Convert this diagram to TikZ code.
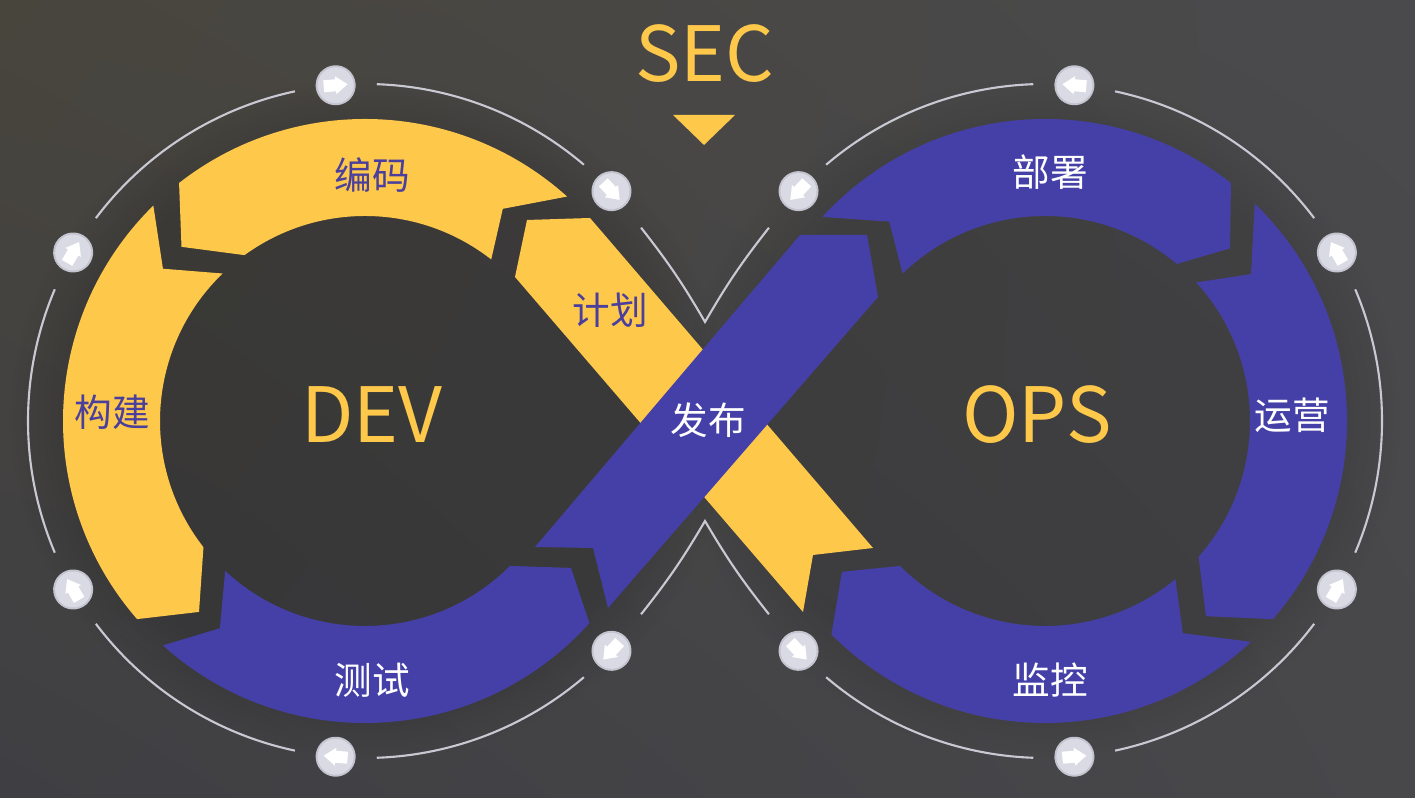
\documentclass[tikz,border=0pt]{standalone}
\usepackage{fontspec}
\setmainfont{Noto Sans CJK SC}
\usetikzlibrary{calc,fadings,shadings}
\definecolor{bgTL}{HTML}{48453D}
\definecolor{bgTR}{HTML}{4A4A4D}
\definecolor{bgBL}{HTML}{3F3F43}
\definecolor{bgBR}{HTML}{48484B}
\definecolor{gold}{HTML}{FEC84B}
\definecolor{indigo}{HTML}{4540A8}
\definecolor{thinc}{HTML}{C9C9D3}
\definecolor{dotc}{HTML}{DADAE4}
\definecolor{dotrim}{HTML}{C4C4D0}
\definecolor{lblpurple}{HTML}{4A3F9C}
\newcommand{\ringseg}[8]{%
  \fill[#8] ($(#1)+(#2:3.02)$) arc[start angle=#2, end angle=#5, radius=3.02]
    -- ($(#1)+(#6:2.53)$) -- ($(#1)+(#7:2.05)$)
    arc[start angle=#7, end angle=#4, radius=2.05]
    -- ($(#1)+(#3:2.53)$) -- cycle;}
\newcommand{\ringdot}[3]{%
  \begin{scope}[shift={($(#1)+(#2:3.37)$)}, rotate=#3]
    \fill[dotrim] (0,0) circle (0.2);
    \fill[dotc] (0,0) circle (0.18);
    \fill[white] (-0.12,-0.06) -- (0.0,-0.06) -- (0.0,-0.09) -- (0.12,0) -- (0.0,0.09) -- (0.0,0.06) -- (-0.12,0.06) -- cycle;
  \end{scope}}
\tikzset{
  thinline/.style={draw=thinc, line width=0.6pt},
  lbl/.style={font=\fontsize{10.7}{12}\selectfont, inner sep=0pt},
  big/.style={font=\fontsize{21.7}{24}\selectfont, text=gold, inner sep=0pt}
}
\begin{document}
\begin{tikzpicture}
\useasboundingbox (0,0) rectangle (14.15,7.98);
\shade[upper left=bgTL, upper right=bgTR, lower left=bgBL, lower right=bgBR] (0,0) rectangle (14.15,7.98);
\fill[black, opacity=0.16, path fading=circle with fuzzy edge 20 percent] (3.7,3.8) ellipse (3.6 and 3.4);
\fill[black, opacity=0.12, path fading=circle with fuzzy edge 20 percent] (10.4,3.8) ellipse (3.6 and 3.4);
\coordinate (CL) at (3.65,3.77);
\coordinate (CR) at (10.45,3.77);
\coordinate (xt) at (7.05,4.76);
\coordinate (xb) at (7.05,2.77);
% thin outer circles
\foreach \s/\e in {49.5/88,102/143,157/203,217/258,272/310.5}
  \draw[thinline] ($(CL)+(\s:3.37)$) arc[start angle=\s, end angle=\e, radius=3.37];
\foreach \s/\e in {92/130.5,37/78,-23/23,-78/-37,-130.5/-92}
  \draw[thinline] ($(CR)+(\s:3.37)$) arc[start angle=\s, end angle=\e, radius=3.37];
\draw[thinline] ($(CL)+(35:3.37)$) to[bend left=4] (xt) to[bend left=4] ($(CR)+(145:3.37)$);
\draw[thinline] ($(CL)+(-35:3.37)$) to[bend right=4] (xb) to[bend right=4] ($(CR)+(215:3.37)$);
% left ring
\ringseg{CL}{48}{57}{52}{128}{136.5}{126}{gold}
\ringseg{CL}{134.5}{143}{134}{221}{229}{218}{gold}
\ringseg{CL}{228}{235}{227}{318}{324.5}{315}{indigo}
% right ring
\ringseg{CR}{137.5}{128}{134}{52}{43}{50}{indigo}
\ringseg{CR}{46}{35.5}{42.5}{-41}{-50.5}{-41.5}{indigo}
\ringseg{CR}{-47}{-57}{-50.5}{-135}{-143.4}{-135}{indigo}
% crossing bands
\fill[gold] (5.15,5.21) -- (5.27,5.78) -- (5.90,5.80) -- (8.73,2.50) -- (8.13,2.43) -- (8.03,1.86) -- cycle;
\fill[indigo] (5.35,2.51) -- (5.93,2.50) -- (6.08,1.90) -- (8.78,5.01) -- (8.67,5.63) -- (8.00,5.63) -- cycle;
% dots
\foreach \a in {43,95,150,210,265,317} { \ringdot{CL}{\a}{\a-90} }
\foreach \a in {137,85,30,-30,-85,223} { \ringdot{CR}{\a}{\a+90} }
% triangle
\fill[gold] (6.73,6.83) -- (7.35,6.83) -- (7.04,6.53) -- cycle;
% labels
\node[big] (sec) at (7.05,7.44) {SEC};
\node[big] (dev) at (3.72,3.83) {DEV};
\node[big] (ops) at (10.37,3.83) {OPS};
\node[lbl, text=lblpurple] (bianma) at (3.72,6.23) {编码};
\node[lbl, text=lblpurple] (goujian) at (1.12,3.86) {构建};
\node[lbl, text=white] (ceshi) at (3.72,1.18) {测试};
\node[lbl, text=lblpurple] (jihua) at (6.10,4.88) {计划};
\node[lbl, text=white] (fabu) at (7.08,3.78) {发布};
\node[lbl, text=white] (bushu) at (10.50,6.26) {部署};
\node[lbl, text=white] (yunying) at (12.92,3.83) {运营};
\node[lbl, text=white] (jiankong) at (10.50,1.18) {监控};
\end{tikzpicture}
\end{document}
